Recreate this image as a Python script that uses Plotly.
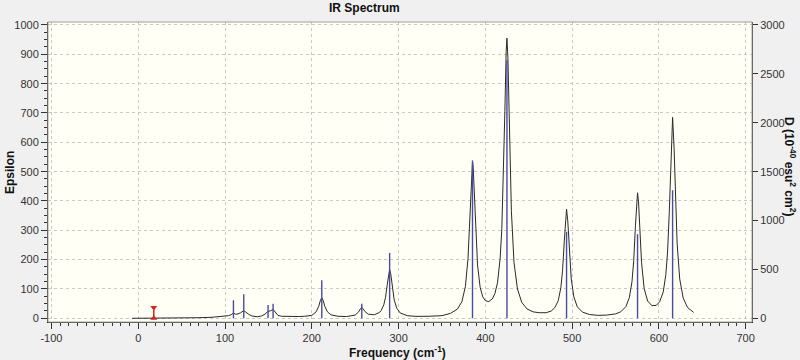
import plotly.graph_objects as go

# ---- data ----
curve_freq = [-7, 17, 30, 50, 70, 85, 95, 100, 104, 107, 109.7, 112, 115, 118, 121.5, 124, 127, 131, 137, 142,
              146, 149.6, 152, 155.4, 158, 161, 165, 175, 185, 192, 200, 205, 208, 210, 211.5, 213, 215, 218, 222,
              230, 240, 250, 254, 256, 257.6, 259, 261, 265, 272, 278, 280, 283, 285, 287, 288.5, 289.7, 291,
              292.5, 295, 298, 302, 310, 320, 335, 350, 360, 368, 373, 377, 380, 382, 383.5, 384.5, 385.2, 386,
              387, 389, 391, 394, 397, 400, 404, 408, 411, 414, 417, 419, 421, 422.5, 424, 424.9, 426, 427.5, 430,
              433, 437, 442, 448, 455, 462, 470, 476, 480, 484, 487, 489, 491, 492.5, 493.6, 495, 497, 499, 502,
              506, 512, 520, 530, 540, 550, 556, 562, 566, 569, 571, 573, 574.5, 575.4, 576.5, 578, 580, 583, 587,
              592, 597, 601, 605, 608, 610, 612, 614, 615.8, 617.5, 619, 621, 624, 628, 633, 638, 640]
curve_eps = [0, 0, 0.5, 1, 2, 3.5, 6, 7, 9, 12, 18, 14, 15, 19, 26, 21, 14, 8, 5, 8,
             14, 24, 25, 30, 20, 10, 7, 6, 6, 7, 10, 22, 41, 62, 70, 62, 41, 22, 12,
             7, 6, 11, 22, 32, 37, 33, 24, 14, 12, 20, 27, 46, 72, 116, 153, 167, 151,
             113, 62, 34, 18, 9, 6.5, 7, 9, 17, 32, 57, 108, 203, 328, 453, 517, 535, 515,
             447, 288, 182, 106, 73, 60, 57, 66, 84, 121, 202, 306, 494, 705, 910, 955, 889, 674, 367,
             191, 100, 54, 32, 22, 19, 19, 25, 36, 60, 104, 164, 264, 348, 372, 332, 218, 134, 73,
             39, 21, 13, 10, 11, 15, 22, 40, 71, 125, 197, 317, 408, 428, 399, 304, 191, 102, 59,
             43, 44, 57, 90, 149, 226, 363, 571, 685, 581, 419, 256, 134, 69, 37, 23, 20]

stick_freq = [109.7, 121.6, 149.6, 155.4, 211.5, 257.6, 289.7, 385.2, 424.9, 493.6, 575.4, 615.8]
stick_D = [185, 245, 135, 150, 389, 150, 669, 1615, 2640, 885, 860, 1310]

marker_freq = [17.9, 17.9]
marker_eps = [0, 37]

x_tick_vals = [-100, 0, 100, 200, 300, 400, 500, 600, 700]
x_tick_text = ["-100", "0", "100", "200", "300", "400", "500", "600", "700"]
y_tick_vals = [0, 100, 200, 300, 400, 500, 600, 700, 800, 900, 1000]
y2_tick_vals = [0, 500, 1000, 1500, 2000, 2500, 3000]

# ---- figure ----
FONT = "Liberation Sans, Arial, sans-serif"

stick_x, stick_y = [], []
for f, d in zip(stick_freq, stick_D):
    stick_x += [f, f, None]
    stick_y += [0, d, None]

fig = go.Figure()
fig.add_trace(go.Scatter(x=curve_freq, y=curve_eps, mode="lines",
                         line=dict(color="#2a2a2a", width=1), yaxis="y", hoverinfo="skip"))
fig.add_trace(go.Scatter(x=stick_x, y=stick_y, mode="lines",
                         line=dict(color="#4a4aa0", width=1.4), yaxis="y2", hoverinfo="skip"))
fig.add_trace(go.Scatter(x=marker_freq, y=marker_eps, mode="lines+markers",
                         line=dict(color="#d42020", width=1.5),
                         marker=dict(symbol=["triangle-up", "triangle-down"], size=6, color="#d42020"),
                         yaxis="y", hoverinfo="skip"))

tickfont = dict(family=FONT, size=11, color="#333333")
titlefont = dict(family=FONT, size=12, color="#111")
fig.update_layout(
    width=800, height=360,
    margin=dict(l=48, r=48, t=22, b=38),
    paper_bgcolor="#f0f0f0",
    plot_bgcolor="#fffff6",
    showlegend=False,
    xaxis=dict(range=[-104.0, 707.3], tickmode="array", tickvals=x_tick_vals, ticktext=x_tick_text,
               ticks="outside", ticklen=6, tickcolor="#333", showline=True, linecolor="#333",
               showgrid=True, gridcolor="#c8c8c8", griddash="dot", zeroline=False,
               minor=dict(dtick=10, tick0=0, ticks="outside", ticklen=3, tickcolor="#333", showgrid=False),
               tickfont=tickfont),
    yaxis=dict(range=[-12.6, 1010.2], tickmode="array", tickvals=y_tick_vals,
               ticks="outside", ticklen=6, tickcolor="#333", showline=True, linecolor="#333",
               showgrid=True, gridcolor="#c8c8c8", griddash="dot", zeroline=False,
               minor=dict(dtick=25, tick0=0, ticks="outside", ticklen=3, tickcolor="#333", showgrid=False),
               tickfont=tickfont),
    yaxis2=dict(range=[-37.8, 3030.6], overlaying="y", side="right", tickmode="array", tickvals=y2_tick_vals,
                ticks="outside", ticklen=5, tickcolor="#333", showline=True, linecolor="#333",
                showgrid=False, zeroline=False, tickfont=tickfont),
    shapes=[dict(type="rect", xref="paper", yref="paper", x0=0, x1=1, y0=0, y1=1,
                 line=dict(color="#a0a0a0", width=1), layer="above")],
    annotations=[
        dict(text="<b>IR Spectrum</b>", xref="paper", yref="paper", x=0.449, y=1.047,
             xanchor="center", yanchor="middle", showarrow=False, font=titlefont),
        dict(text="<b>Frequency (cm<sup>-1</sup>)</b>", xref="paper", yref="paper", x=0.497, y=-0.1,
             xanchor="center", yanchor="middle", showarrow=False, font=titlefont),
        dict(text="<b>Epsilon</b>", xref="paper", yref="paper", x=-0.054, y=0.5, textangle=-90,
             xanchor="center", yanchor="middle", showarrow=False, font=titlefont),
        dict(text="<b>D (10<sup>-40</sup> esu<sup>2</sup> cm<sup>2</sup>)</b>", xref="paper", yref="paper",
             x=1.054, y=0.517, textangle=90,
             xanchor="center", yanchor="middle", showarrow=False, font=titlefont),
    ],
)

fig.write_html("out.html")
